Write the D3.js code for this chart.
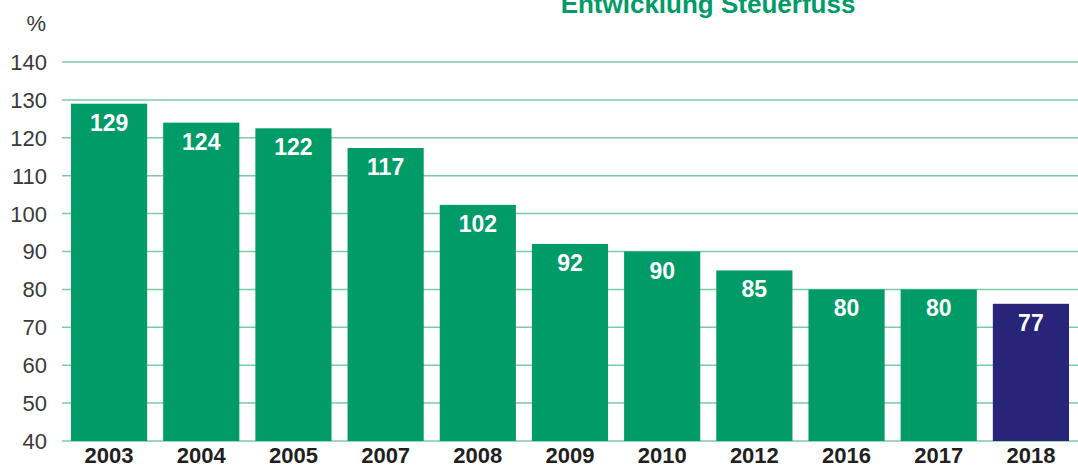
<!DOCTYPE html>
<html>
<head>
<meta charset="utf-8">
<script src="https://cdn.jsdelivr.net/npm/d3@7"></script>
<style>
  body { margin: 0; background: #fff; }
  text { font-family: "Liberation Sans", Arial, sans-serif; }
</style>
</head>
<body>
<div id="chart"></div>
<script>
/* Entwicklung Steuerfuss - bar chart */

const years = ["2003", "2004", "2005", "2007", "2008", "2009", "2010", "2012", "2016", "2017", "2018"];
const values = [129, 124, 122.5, 117.3, 102.3, 92, 90, 85, 80, 80, 76.2];
const labels = ["129", "124", "122", "117", "102", "92", "90", "85", "80", "80", "77"];
const yTicks = [40, 50, 60, 70, 80, 90, 100, 110, 120, 130, 140];

const width = 1078,
    height = 468,
    margin = ({ top: 62, right: 0, bottom: 27, left: 62 });

const svg = d3.select("#chart")
    .append("svg")
    .attr("width", width)
    .attr("height", height);

let x = d3.scaleBand()
    .domain(years)
    .range([63, 1077])
    .paddingInner(0.174)
    .paddingOuter(0.087);

let y = d3.scaleLinear()
    .domain([40, 140])
    .range([height - margin.bottom, margin.top]);

// grid lines
svg.append("g")
    .selectAll("line")
    .data(yTicks)
    .join("line")
    .attr("x1", margin.left)
    .attr("x2", width)
    .attr("y1", d => y(d))
    .attr("y2", d => y(d))
    .attr("stroke", "#7ccaa6")
    .attr("stroke-width", 1.5);

// y labels
svg.append("g")
    .selectAll("text")
    .data(yTicks)
    .join("text")
    .attr("x", 47)
    .attr("y", d => y(d))
    .attr("dy", "0.36em")
    .attr("text-anchor", "end")
    .attr("font-size", 22)
    .attr("fill", "#3a3a3a")
    .text(d => d);

svg.append("text")
    .attr("x", 46)
    .attr("y", 31)
    .attr("text-anchor", "end")
    .attr("font-size", 22)
    .attr("fill", "#3a3a3a")
    .text("%");

// title (cropped at the top edge, as in the source)
svg.append("text")
    .attr("x", 708)
    .attr("y", 13)
    .attr("text-anchor", "middle")
    .attr("font-size", 26)
    .attr("font-weight", "bold")
    .attr("fill", "#009b67")
    .text("Entwicklung Steuerfuss");

// bars
svg.append("g")
    .selectAll("rect")
    .data(values)
    .join("rect")
    .attr("x", (d, i) => x(years[i]))
    .attr("y", d => y(d))
    .attr("width", x.bandwidth())
    .attr("height", d => y(40) - y(d))
    .attr("fill", (d, i) => i === values.length - 1 ? "#27247a" : "#009b67");

// value labels
svg.append("g")
    .selectAll("text")
    .data(values)
    .join("text")
    .attr("x", (d, i) => x(years[i]) + x.bandwidth() / 2)
    .attr("y", d => y(d) + 27)
    .attr("text-anchor", "middle")
    .attr("font-size", 23)
    .attr("font-weight", "bold")
    .attr("fill", "#fff")
    .text((d, i) => labels[i]);

// x labels
svg.append("g")
    .selectAll("text")
    .data(years)
    .join("text")
    .attr("x", d => x(d) + x.bandwidth() / 2)
    .attr("y", 463)
    .attr("text-anchor", "middle")
    .attr("font-size", 22)
    .attr("font-weight", "bold")
    .attr("fill", "#231f20")
    .text(d => d);
</script>
</body>
</html>
